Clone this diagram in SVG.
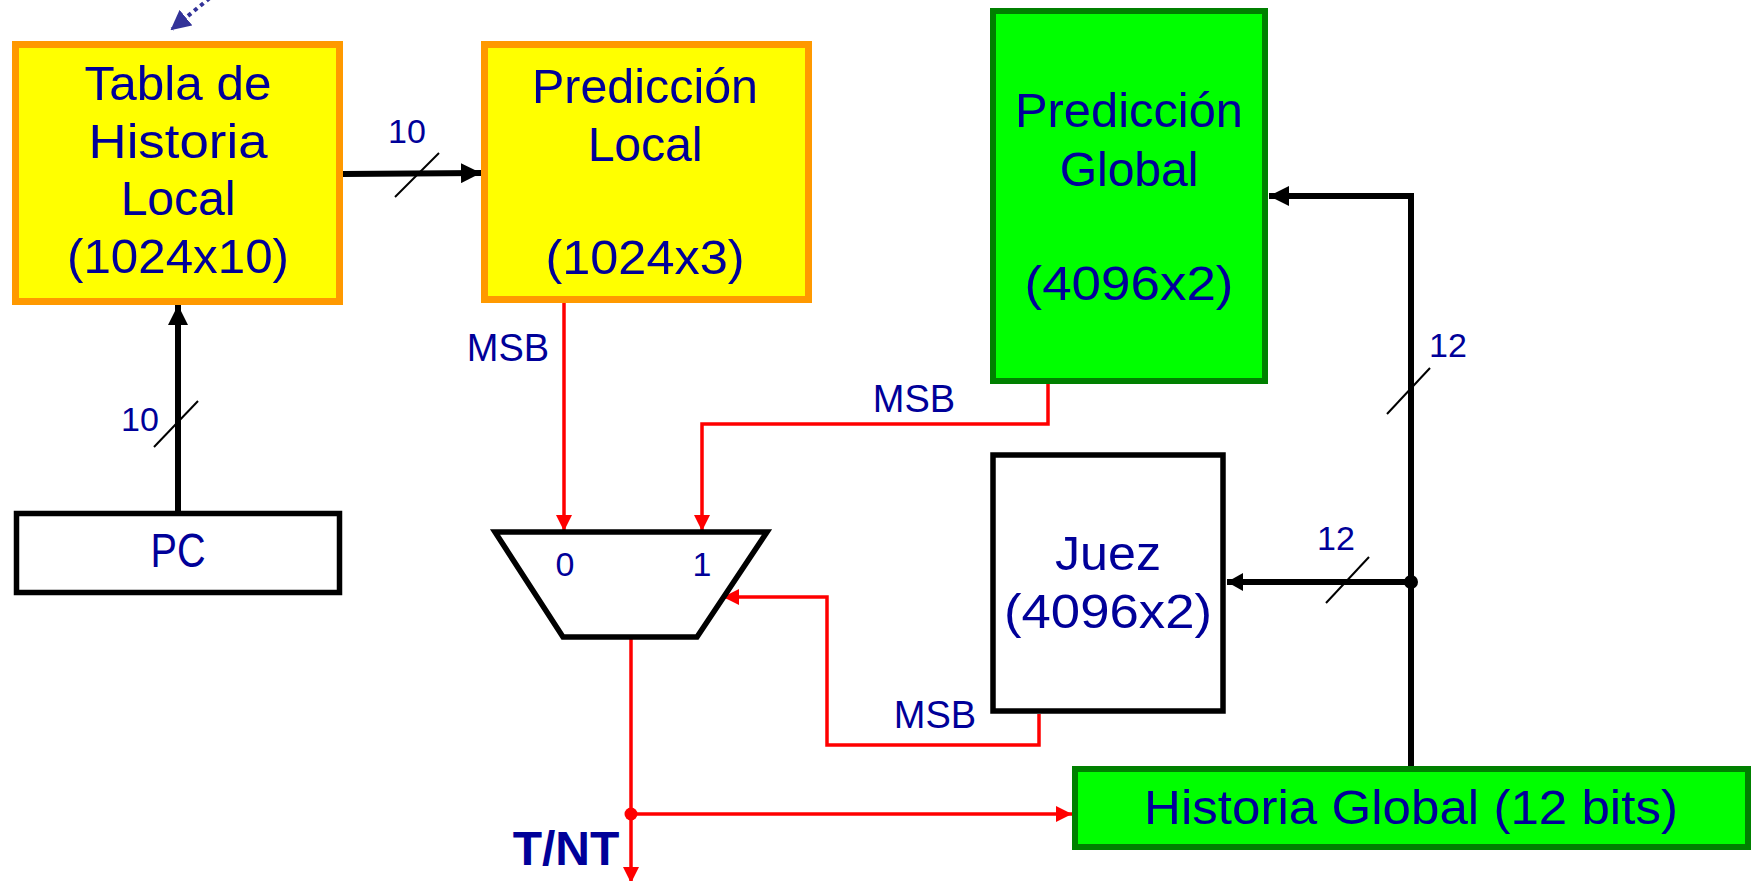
<svg xmlns="http://www.w3.org/2000/svg" width="1756" height="881" viewBox="0 0 1756 881">
<style>
.t{font-family:"Liberation Sans",Arial,sans-serif;fill:#000099;text-anchor:middle}
.big{font-size:48px}
.sm{font-size:34px}
.msb{font-size:38px}
.yel{fill:#ffff00;stroke:#ff9900;stroke-width:7}
.grn{fill:#00ff00;stroke:#008000;stroke-width:6}
.wht{fill:#ffffff;stroke:#000000;stroke-width:5.5}
.bk{fill:none;stroke:#000000;stroke-width:6}
.rd{fill:none;stroke:#ff0000;stroke-width:3.5}
.sl{stroke:#000000;stroke-width:2}
</style>
<defs>
<marker id="ab" markerUnits="userSpaceOnUse" markerWidth="20" markerHeight="20" refX="20" refY="10" orient="auto"><path d="M0,0 L20,10 L0,20 z" fill="#000000"/></marker>
<marker id="abs" markerUnits="userSpaceOnUse" markerWidth="16" markerHeight="18" refX="16" refY="9" orient="auto"><path d="M0,0 L16,9 L0,18 z" fill="#000000"/></marker>
<marker id="ar" markerUnits="userSpaceOnUse" markerWidth="16" markerHeight="16" refX="16" refY="8" orient="auto"><path d="M0,0 L16,8 L0,16 z" fill="#ff0000"/></marker>
<marker id="ad" markerUnits="userSpaceOnUse" markerWidth="20" markerHeight="20" refX="18" refY="10" orient="auto"><path d="M0,0 L20,10 L0,20 z" fill="#333399"/></marker>
</defs>
<rect width="1756" height="881" fill="#ffffff"/>

<g id="connectors">
<line x1="222" y1="-12" x2="172" y2="29" stroke="#333399" stroke-width="4" stroke-dasharray="4 4" marker-end="url(#ad)"/>
<line class="bk" x1="343" y1="174" x2="481" y2="173" marker-end="url(#ab)"/>
<line class="bk" x1="178" y1="511" x2="178" y2="305" marker-end="url(#ab)"/>
<polyline class="bk" points="1411,766 1411,196 1269,196" marker-end="url(#ab)"/>
<line class="bk" x1="1411" y1="582" x2="1227" y2="582" stroke-width="5" marker-end="url(#abs)"/>
<circle cx="1411" cy="582" r="7" fill="#000000"/>
<line class="rd" x1="564" y1="303" x2="564" y2="531" marker-end="url(#ar)"/>
<polyline class="rd" points="1048,384 1048,424 702,424 702,531" marker-end="url(#ar)"/>
<polyline class="rd" points="1039,714 1039,745 827,745 827,597 723,597" marker-end="url(#ar)"/>
<line class="rd" x1="631" y1="637" x2="631" y2="883" marker-end="url(#ar)"/>
<line class="rd" x1="631" y1="814" x2="1072" y2="814" marker-end="url(#ar)"/>
<circle cx="631" cy="814" r="6.5" fill="#ff0000"/>
<line class="sl" x1="395" y1="197" x2="439" y2="153"/>
<line class="sl" x1="154" y1="447" x2="198" y2="401"/>
<line class="sl" x1="1387" y1="414" x2="1430" y2="368"/>
<line class="sl" x1="1326" y1="603" x2="1369" y2="557"/>
<text class="t sm" x="407" y="143">10</text>
<text class="t sm" x="140" y="431">10</text>
<text class="t sm" x="1448" y="357">12</text>
<text class="t sm" x="1336" y="550">12</text>
<text class="t msb" x="508" y="361">MSB</text>
<text class="t msb" x="914" y="412">MSB</text>
<text class="t msb" x="935" y="728">MSB</text>
<text class="t" x="566" y="865" style="font-size:48px;font-weight:bold">T/NT</text>
</g>

<g id="tabla">
<rect class="yel" x="15.5" y="44.5" width="324" height="257"/>
<text class="t big" x="178" y="100" textLength="187" lengthAdjust="spacingAndGlyphs">Tabla de</text>
<text class="t big" x="178" y="158" textLength="179" lengthAdjust="spacingAndGlyphs">Historia</text>
<text class="t big" x="178" y="215">Local</text>
<text class="t big" x="178" y="273" textLength="222" lengthAdjust="spacingAndGlyphs">(1024x10)</text>
</g>

<g id="pred-local">
<rect class="yel" x="484.5" y="44.5" width="324" height="255"/>
<text class="t big" x="645" y="103" textLength="226" lengthAdjust="spacingAndGlyphs">Predicción</text>
<text class="t big" x="645" y="161">Local</text>
<text class="t big" x="645" y="274" textLength="199" lengthAdjust="spacingAndGlyphs">(1024x3)</text>
</g>

<g id="pred-global">
<rect class="grn" x="993" y="11" width="272" height="370"/>
<text class="t big" x="1129" y="127" textLength="228" lengthAdjust="spacingAndGlyphs">Predicción</text>
<text class="t big" x="1129" y="186">Global</text>
<text class="t big" x="1129" y="300" textLength="209" lengthAdjust="spacingAndGlyphs">(4096x2)</text>
</g>

<g id="pc">
<rect class="wht" x="16.5" y="513.5" width="323" height="79"/>
<text class="t big" x="178" y="567" textLength="55" lengthAdjust="spacingAndGlyphs">PC</text>
</g>

<g id="mux">
<polygon class="wht" points="495,532 767,532 697,637 563,637"/>
<text class="t sm" x="565" y="576">0</text>
<text class="t sm" x="702" y="576">1</text>
</g>

<g id="juez">
<rect class="wht" x="993" y="455" width="230" height="256"/>
<text class="t big" x="1108" y="570" textLength="106" lengthAdjust="spacingAndGlyphs">Juez</text>
<text class="t big" x="1108" y="628" textLength="208" lengthAdjust="spacingAndGlyphs">(4096x2)</text>
</g>

<g id="historia-global">
<rect class="grn" x="1075" y="769" width="673" height="78"/>
<text class="t big" x="1411" y="824" textLength="534" lengthAdjust="spacingAndGlyphs">Historia Global (12 bits)</text>
</g>
</svg>
